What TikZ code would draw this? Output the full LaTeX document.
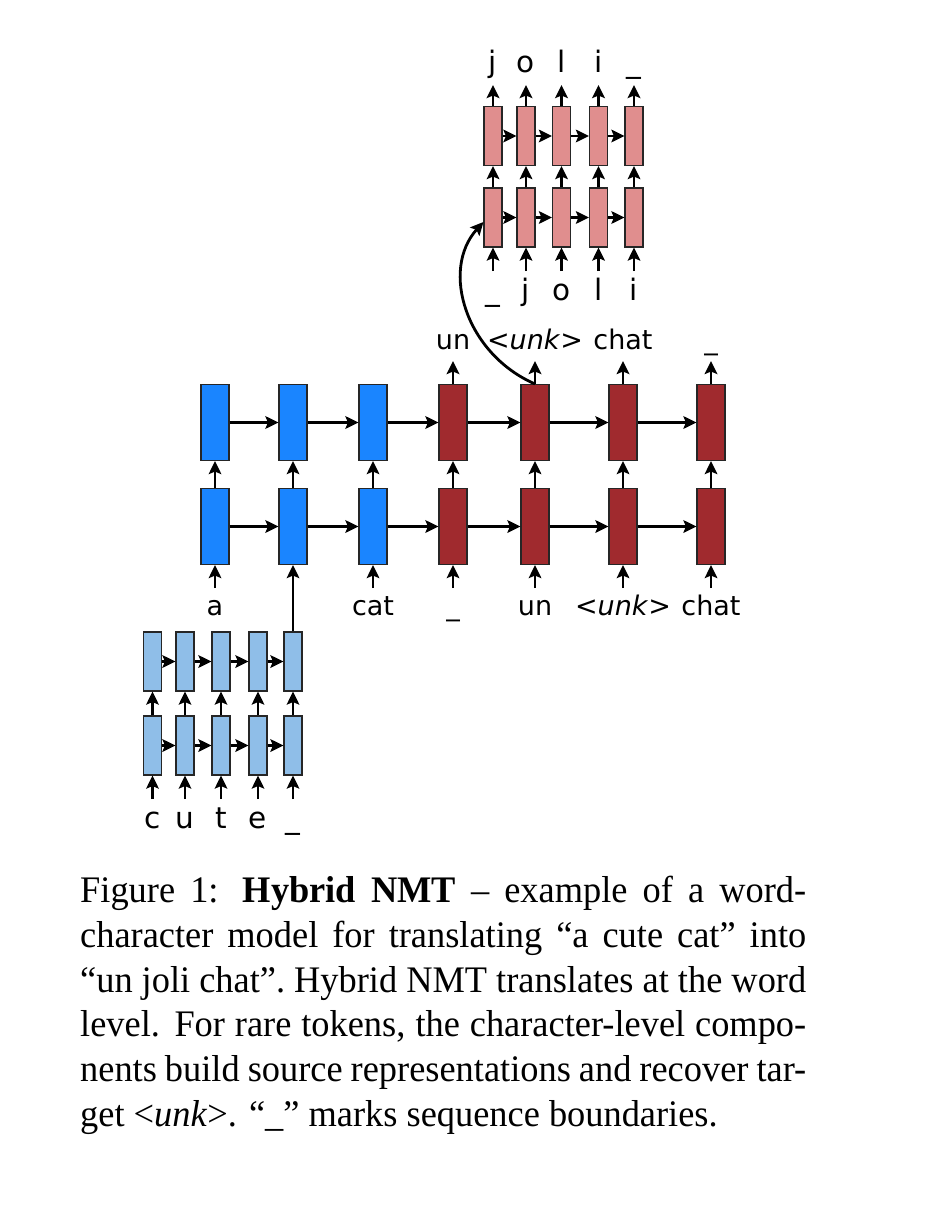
\documentclass[tikz,border=0pt]{standalone}
\usepackage{fontspec}
\setmainfont{Liberation Serif}[FakeStretch=0.97]
\newfontfamily\lab{DejaVu Sans}
\usetikzlibrary{arrows.meta,calc}
\definecolor{wblue}{RGB}{26,133,255}
\definecolor{wred}{RGB}{160,42,46}
\definecolor{cblue}{RGB}{143,190,232}
\definecolor{cpink}{RGB}{224,142,142}
\begin{document}
\begin{tikzpicture}[x=1pt,y=-1pt,
  cell/.style={draw=black!85, line width=1.1pt, inner sep=0pt},
  wcell/.style={cell, minimum width=28pt, minimum height=76pt},
  ccell/.style={cell, minimum width=18pt, minimum height=59pt},
  arr/.style={line width=2.8pt, -{Stealth[length=13pt,width=12.5pt,inset=2.5pt]}},
  lbl/.style={font=\lab\fontsize{27}{30}\selectfont, inner sep=0pt, anchor=base},
  clbl/.style={font=\lab\fontsize{29.5}{32}\selectfont, inner sep=0pt, anchor=base},
]
\fill[white] (0,0) rectangle (938,1206);
\useasboundingbox (0,0) rectangle (938,1206);

% ---------- word level ----------
\foreach \i/\x/\c in {1/215/wblue,2/293/wblue,3/373/wblue,4/453/wred,5/535/wred,6/623/wred,7/711/wred}{
  \node[wcell, fill=\c] (w\i-1) at (\x,526.5) {};
  \node[wcell, fill=\c] (w\i-2) at (\x,422.5) {};
  \draw[arr] (w\i-1.north) -- (w\i-2.south);
}
\foreach \i [evaluate=\i as \j using int(\i+1)] in {1,...,6}{
  \draw[arr] (w\i-1.east) -- (w\j-1.west);
  \draw[arr] (w\i-2.east) -- (w\j-2.west);
}
% word inputs
\foreach \i/\x/\t in {1/215/a,3/373/cat,4/453/\_,5/535/un,6/623/{<\textit{unk}>},7/711/chat}{
  \coordinate (wi\i) at (\x,588);
  \draw[arr] (wi\i) -- (w\i-1.south);
  \node[lbl] (wl\i) at (\x,615) {\t};
}
% word outputs
\foreach \i/\x/\t in {4/453/un,5/535/{<\textit{unk}>},6/623/chat,7/711/\_}{
  \coordinate (wo\i) at (\x,361);
  \draw[arr] (w\i-2.north) -- (wo\i);
  \node[lbl] (wt\i) at (\x,349) {\t};
}

% ---------- char decoder ----------
\foreach \i/\x/\a/\b in {1/493/\_/j,2/526/j/o,3/561.5/o/l,4/598.5/l/i,5/634/i/\_}{
  \node[ccell, fill=cpink] (d\i-1) at (\x,217.5) {};
  \node[ccell, fill=cpink] (d\i-2) at (\x,136) {};
  \draw[arr] (d\i-1.north) -- (d\i-2.south);
  \coordinate (di\i) at (\x,271);
  \draw[arr] (di\i) -- (d\i-1.south);
  \coordinate (do\i) at (\x,85);
  \draw[arr] (d\i-2.north) -- (do\i);
  \node[clbl] (dl\i) at (\x,300) {\a};
  \node[clbl] (dt\i) at (\x,73) {\b};
}
\foreach \i [evaluate=\i as \j using int(\i+1)] in {1,...,4}{
  \draw[arr] (d\i-1.east) -- (d\j-1.west);
  \draw[arr] (d\i-2.east) -- (d\j-2.west);
}

% ---------- char encoder ----------
\foreach \i/\x/\a in {1/152.5/c,2/185/u,3/221/t,4/258/e,5/293/\_}{
  \node[ccell, fill=cblue] (e\i-1) at (\x,745.5) {};
  \node[ccell, fill=cblue] (e\i-2) at (\x,661.5) {};
  \draw[arr] (e\i-1.north) -- (e\i-2.south);
  \coordinate (ei\i) at (\x,799);
  \draw[arr] (ei\i) -- (e\i-1.south);
  \node[clbl] (el\i) at (\x,828) {\a};
}
\foreach \i [evaluate=\i as \j using int(\i+1)] in {1,...,4}{
  \draw[arr] (e\i-1.east) -- (e\j-1.west);
  \draw[arr] (e\i-2.east) -- (e\j-2.west);
}
\draw[arr] (e5-2.north) -- (w2-1.south);

% ---------- unk -> char decoder ----------
\draw[arr] (w5-2.north) .. controls (466,354) and (440,270) .. ($(d1-1.west)+(0,4.5)$);

% ---------- caption ----------
\node[anchor=north west, inner sep=0pt, text width=726pt, align=justify,
      font=\fontsize{37.5}{44.7}\selectfont] (cap) at (80,876)
{\hyphenpenalty=10000 \exhyphenpenalty=10000
Figure 1: \textbf{Hybrid NMT} -- example of a word-\linebreak
character model for translating “a cute cat” into\linebreak
“un joli chat”.\ Hybrid NMT translates at the word\linebreak
level. For rare tokens, the character-level compo-\linebreak
nents build source representations and recover tar-\linebreak
get <\textit{unk}>. “\_” marks sequence boundaries.};
\end{tikzpicture}
\end{document}
